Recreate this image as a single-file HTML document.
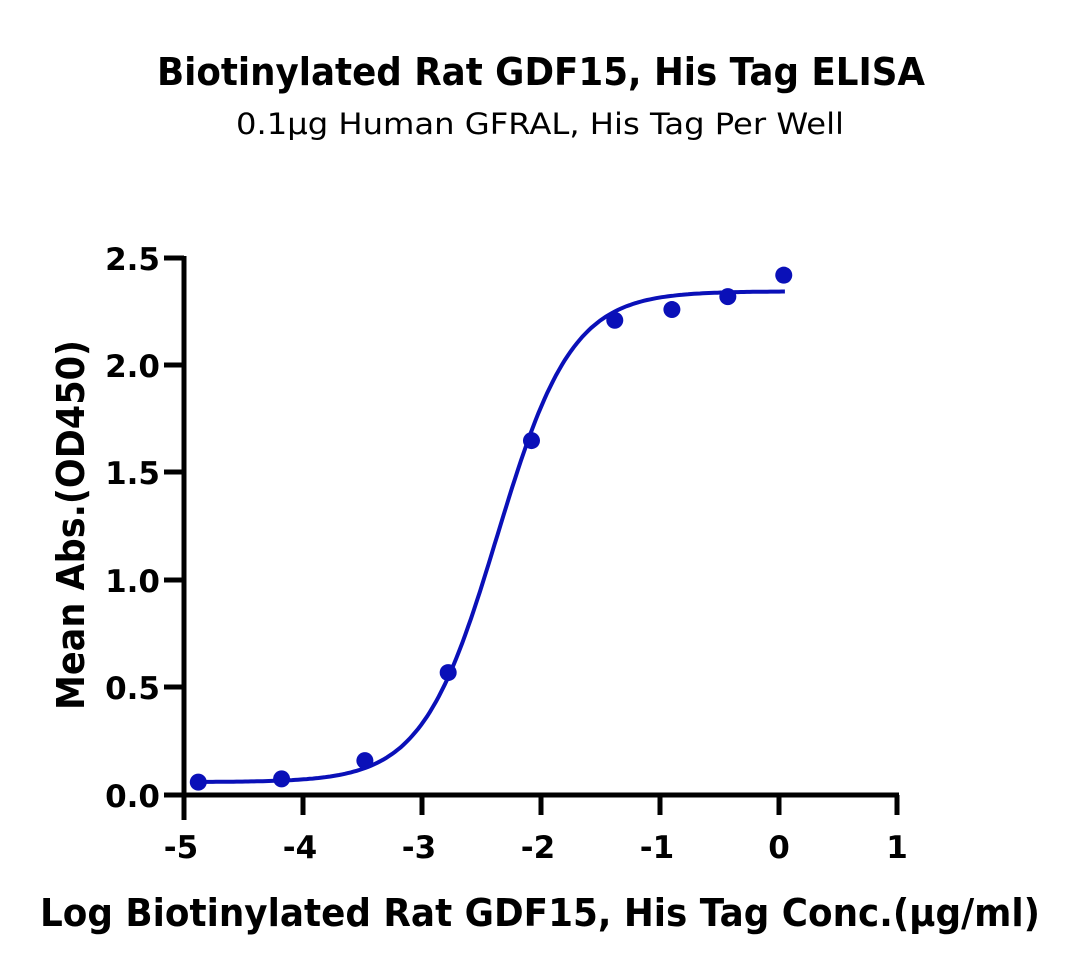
<!DOCTYPE html>
<html><head><meta charset="utf-8"><style>
html,body{margin:0;padding:0;background:#fff;}
</style></head><body>
<svg width="1080" height="971" viewBox="0 0 1080 971" xmlns="http://www.w3.org/2000/svg" font-family="'DejaVu Sans', 'Liberation Sans', sans-serif">
<text x="157" y="85" textLength="768" lengthAdjust="spacingAndGlyphs" font-size="38" font-weight="bold" fill="#000">Biotinylated Rat GDF15, His Tag ELISA</text>
<text x="236" y="134" textLength="608" lengthAdjust="spacingAndGlyphs" font-size="29" fill="#000">0.1μg Human GFRAL, His Tag Per Well</text>
<g stroke="#000" stroke-width="5" fill="none">
<line x1="184" y1="256" x2="184" y2="820"/>
<line x1="164" y1="795" x2="899" y2="795"/>
<line x1="164" y1="258" x2="184" y2="258"/>
<line x1="164" y1="365" x2="184" y2="365"/>
<line x1="164" y1="472" x2="184" y2="472"/>
<line x1="164" y1="580" x2="184" y2="580"/>
<line x1="164" y1="687" x2="184" y2="687"/>
<line x1="303" y1="795" x2="303" y2="815"/>
<line x1="422" y1="795" x2="422" y2="815"/>
<line x1="541" y1="795" x2="541" y2="815"/>
<line x1="660" y1="795" x2="660" y2="815"/>
<line x1="779" y1="795" x2="779" y2="815"/>
<line x1="897" y1="795" x2="897" y2="815"/>
</g>
<g font-size="31" font-weight="bold" text-anchor="end" fill="#000">
<text x="160" y="270">2.5</text><text x="160" y="377">2.0</text><text x="160" y="484">1.5</text>
<text x="160" y="592">1.0</text><text x="160" y="699">0.5</text><text x="160" y="807">0.0</text>
</g>
<g font-size="31" font-weight="bold" text-anchor="middle" fill="#000">
<text x="181" y="858">-5</text><text x="300" y="858">-4</text><text x="419" y="858">-3</text>
<text x="538" y="858">-2</text><text x="657" y="858">-1</text><text x="779" y="858">0</text><text x="897" y="858">1</text>
</g>
<text x="40" y="926" textLength="1000" lengthAdjust="spacingAndGlyphs" font-size="38" font-weight="bold" fill="#000">Log Biotinylated Rat GDF15, His Tag Conc.(μg/ml)</text>
<text transform="translate(84,710) rotate(-90)" textLength="370" lengthAdjust="spacingAndGlyphs" font-size="38" font-weight="bold" fill="#000">Mean Abs.(OD450)</text>
<path id="curve" fill="none" stroke="#0a10b8" stroke-width="4"/>
<g fill="#0a10b8" id="pts"></g>
</svg>
<script>
var X=function(v){return 184+(v+5)*119;},Y=function(v){return 795-v*214.8;};
var d="";for(var i=0;i<=200;i++){var x=-4.88+i*(4.93/200);var y=0.06+(2.345-0.06)/(1+Math.pow(10,( -2.37-x)*1.38));d+=(i?"L":"M")+X(x).toFixed(1)+" "+Y(y).toFixed(1);}
document.getElementById("curve").setAttribute("d",d);
var p=[[-4.88,0.06],[-4.18,0.075],[-3.48,0.16],[-2.78,0.57],[-2.08,1.65],[-1.38,2.21],[-0.9,2.26],[-0.43,2.32],[0.04,2.42]];
var g=document.getElementById("pts"),s="";p.forEach(function(q){s+='<circle cx="'+X(q[0])+'" cy="'+Y(q[1])+'" r="8.5"/>';});g.innerHTML=s;
</script>
</body></html>
